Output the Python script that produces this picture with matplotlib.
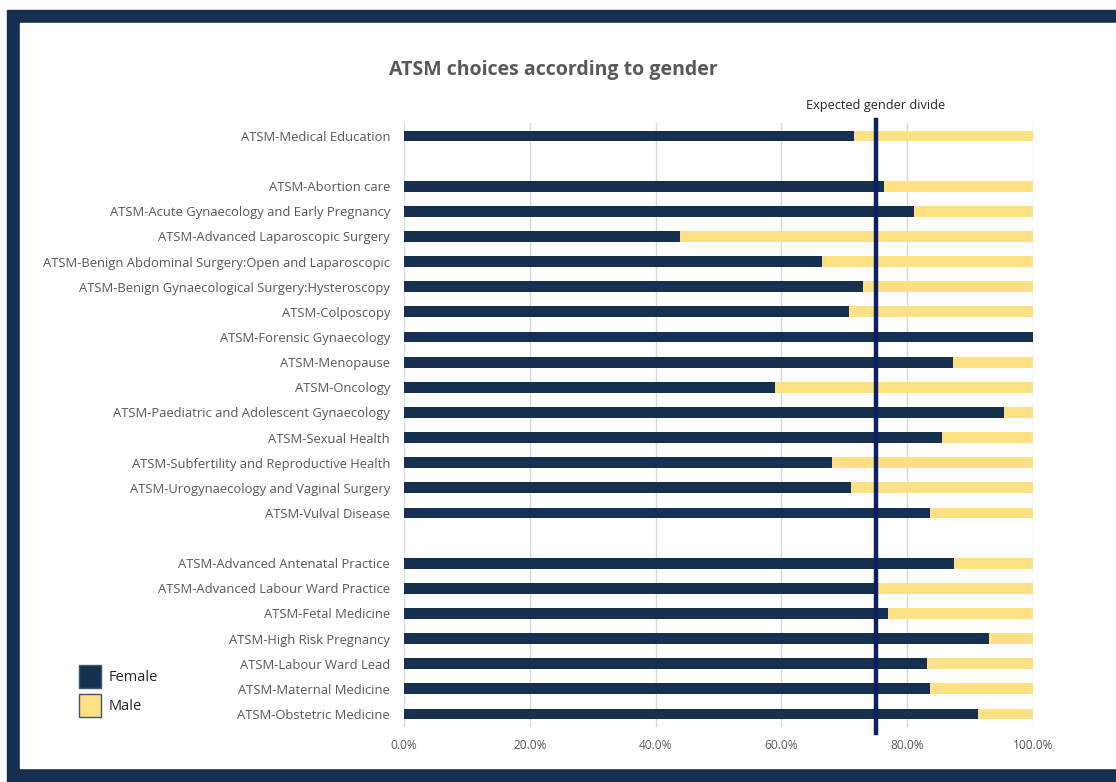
import matplotlib
matplotlib.use('Agg')

import matplotlib.pyplot as plt
import numpy as np
from matplotlib.patches import Rectangle, Patch


# ===============================
# DATA (female share, %)
# ===============================
group_general = ["ATSM-Medical Education"]
female_general = [71.5]

group_gyn = [
    "ATSM-Abortion care",
    "ATSM-Acute Gynaecology and Early Pregnancy",
    "ATSM-Advanced Laparoscopic Surgery",
    "ATSM-Benign Abdominal Surgery:Open and Laparoscopic",
    "ATSM-Benign Gynaecological Surgery:Hysteroscopy",
    "ATSM-Colposcopy",
    "ATSM-Forensic Gynaecology",
    "ATSM-Menopause",
    "ATSM-Oncology",
    "ATSM-Paediatric and Adolescent Gynaecology",
    "ATSM-Sexual Health",
    "ATSM-Subfertility and Reproductive Health",
    "ATSM-Urogynaecology and Vaginal Surgery",
    "ATSM-Vulval Disease",
]
female_gyn = [76.3, 81.1, 43.9, 66.4, 72.9, 70.8, 100.0,
              87.3, 59.0, 95.4, 85.6, 68.1, 71.0, 83.6]

group_obs = [
    "ATSM-Advanced Antenatal Practice",
    "ATSM-Advanced Labour Ward Practice",
    "ATSM-Fetal Medicine",
    "ATSM-High Risk Pregnancy",
    "ATSM-Labour Ward Lead",
    "ATSM-Maternal Medicine",
    "ATSM-Obstetric Medicine",
]
female_obs = [87.5, 75.3, 77.0, 93.0, 83.1, 83.7, 91.2]

expected_divide = 75.0
x_ticks = [0, 20, 40, 60, 80, 100]

# ===============================
# COLOURS
# ===============================
navy = '#17304f'
yellow = '#ffe083'
line_blue = '#0b2060'
grey_text = '#595959'

# build rows with a blank slot between groups
labels = []
female = []
for grp, vals in [(group_general, female_general),
                  (group_gyn, female_gyn),
                  (group_obs, female_obs)]:
    if labels:
        labels.append("")
        female.append(np.nan)
    labels += grp
    female += vals

female = np.array(female) / 100.0
male = 1.0 - female
y = np.arange(len(labels))
has_bar = ~np.isnan(female)

# ===============================
# FIGURE
# ===============================
plt.rcParams['font.family'] = ['Open Sans', 'DejaVu Sans']

W, H = 1116, 782
fig = plt.figure(figsize=(W / 100, H / 100), dpi=100)

# navy frame
fig.patches.append(Rectangle((7 / W, 0), 1 - 7 / W, (H - 10) / H,
                             transform=fig.transFigure, color=navy, zorder=-2))
fig.patches.append(Rectangle((20 / W, 14 / H), 1 - 20 / W, (H - 37) / H,
                             transform=fig.transFigure, color='white', zorder=-1))

ax = fig.add_axes([404 / W, 55.4 / H, 629 / W, 603.2 / H])
ax.set_facecolor('none')

ax.barh(y[has_bar], female[has_bar], height=0.43, color=navy, label='Female', zorder=2)
ax.barh(y[has_bar], male[has_bar], left=female[has_bar], height=0.43,
        color=yellow, label='Male', zorder=2)

ax.set_xlim(0, 1)
ax.set_ylim(len(labels) - 0.5, -0.5)

ax.set_yticks(y)
ax.set_yticklabels(labels, fontsize=9.4, color=grey_text)
ax.set_xticks(np.array(x_ticks) / 100)
ax.set_xticklabels([f"{t:.1f}%" for t in x_ticks], fontsize=8.6, color=grey_text)
ax.tick_params(axis='y', length=0, pad=10)
ax.tick_params(axis='x', length=0, pad=9)

ax.grid(axis='x', color='#d9d9d9', linewidth=1, zorder=0)
ax.set_axisbelow(True)
for side in ['top', 'right', 'bottom', 'left']:
    ax.spines[side].set_visible(False)

# expected gender divide line
ax.plot([expected_divide / 100] * 2, [-0.65, len(labels) - 0.25],
        color=line_blue, linewidth=3.2, clip_on=False, zorder=3)
ax.text(expected_divide / 100, -0.95, "Expected gender divide",
        ha='center', va='bottom', fontsize=9.2, color='#262626')

fig.text(553 / W, 1 - 70 / H, "ATSM choices according to gender",
         ha='center', va='center', fontsize=14, fontweight='bold', color=grey_text)

handles = [Patch(facecolor=navy, edgecolor='#44546a', label='Female'),
           Patch(facecolor=yellow, edgecolor='#44546a', label='Male')]
fig.legend(handles=handles, loc='upper left', bbox_to_anchor=(66 / W, 1 - 652 / H),
           frameon=False, fontsize=10.5, handlelength=1.5, handleheight=2.0,
           handletextpad=0.5, labelspacing=0.45, labelcolor='#262626')

plt.savefig("out.png", dpi=100)
plt.close()
